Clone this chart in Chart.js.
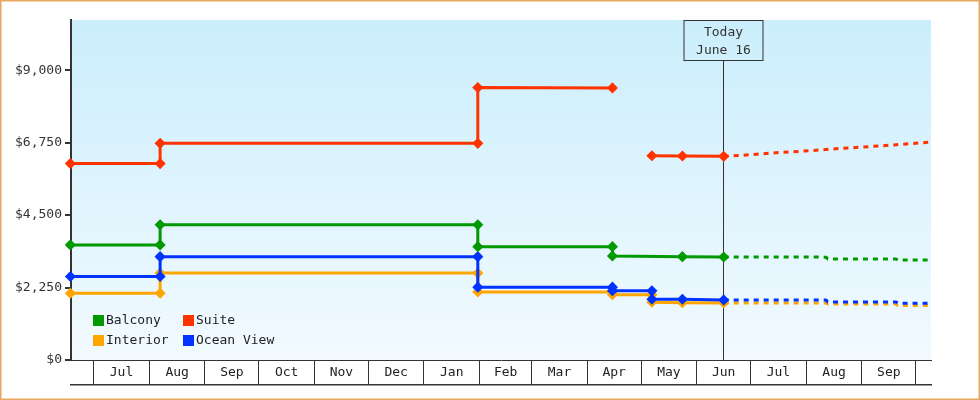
<!DOCTYPE html>
<html>
<head>
<meta charset="utf-8">
<script src="https://cdn.jsdelivr.net/npm/chart.js@4/dist/chart.umd.min.js"></script>
<style>
  html, body { margin: 0; padding: 0; background: #fff; }
  #wrap { width: 980px; height: 400px; }
</style>
</head>
<body>
<div id="wrap"><canvas id="priceChart" width="980" height="400"></canvas></div>
<script>
// cabin prices over time, with forecast after "today"
const today = "2024-06-16";
const rangeStart = "2023-06-18";
const rangeEnd = "2024-10-09";

const monthStarts = [
  "2023-07-01", "2023-08-01", "2023-09-01", "2023-10-01", "2023-11-01", "2023-12-01",
  "2024-01-01", "2024-02-01", "2024-03-01", "2024-04-01", "2024-05-01", "2024-06-01",
  "2024-07-01", "2024-08-01", "2024-09-01", "2024-10-01",
];
const monthLabels = ["Jul", "Aug", "Sep", "Oct", "Nov", "Dec", "Jan", "Feb", "Mar", "Apr", "May", "Jun", "Jul", "Aug", "Sep"];

const yTicks = [0, 2250, 4500, 6750, 9000];

const balconyDates = ["2023-06-18", "2023-08-07", "2023-08-07", "2024-01-31", "2024-01-31", "2024-04-15", "2024-04-15", "2024-05-24", "2024-06-16",
  "2024-08-12", "2024-08-13", "2024-09-20", "2024-09-21", "2024-10-09"];
const balconyPrices = [3575, 3575, 4200, 4200, 3520, 3520, 3230, 3210, 3200,
  3195, 3140, 3140, 3105, 3105];

const suiteDates = ["2023-06-18", "2023-08-07", "2023-08-07", "2024-01-31", "2024-01-31", "2024-04-15", "2024-04-26", "2024-05-07", "2024-05-24", "2024-06-16",
  "2024-06-27", "2024-07-13", "2024-07-31", "2024-08-16", "2024-09-02", "2024-09-19", "2024-10-09"];
const suitePrices = [6100, 6100, 6730, 6730, 8460, 8450, null, 6345, 6335, 6325,
  6360, 6430, 6490, 6555, 6615, 6680, 6765];

const interiorDates = ["2023-06-18", "2023-08-07", "2023-08-07", "2024-01-31", "2024-01-31", "2024-04-15", "2024-04-15", "2024-05-07", "2024-05-07", "2024-05-24", "2024-06-16",
  "2024-08-12", "2024-08-13", "2024-09-20", "2024-09-21", "2024-10-09"];
const interiorPrices = [2075, 2075, 2700, 2700, 2115, 2115, 2030, 2030, 1795, 1780, 1772,
  1770, 1740, 1740, 1690, 1690];

const oceanDates = ["2023-06-18", "2023-08-07", "2023-08-07", "2024-01-31", "2024-01-31", "2024-04-15", "2024-04-15", "2024-05-07", "2024-05-07", "2024-05-24", "2024-06-16",
  "2024-08-12", "2024-08-13", "2024-09-20", "2024-09-21", "2024-10-09"];
const oceanPrices = [2595, 2595, 3210, 3210, 2262, 2262, 2150, 2150, 1887, 1887, 1866,
  1860, 1805, 1805, 1765, 1765];

// days since Jul 1 2023 (linear axis, no date adapter)
const DAY0 = Date.UTC(2023, 6, 1);
function day(s) {
  const p = s.split("-");
  return (Date.UTC(+p[0], +p[1] - 1, +p[2]) - DAY0) / 86400000;
}
const TODAY = day(today);

function points(dates, prices) {
  return dates.map((d, i) => ({ x: day(d), y: prices[i] }));
}

// boundary ticks (grid lines) + mid-month ticks (labels)
const boundaryDays = monthStarts.map(day);
const midDays = monthLabels.map((m, i) => (boundaryDays[i] + boundaryDays[i + 1]) / 2);
const xTickValues = boundaryDays.concat(midDays).sort((a, b) => a - b);

const FONT = "'DejaVu Sans Mono', monospace";

function series(label, color, dates, prices, order) {
  return {
    label: label,
    data: points(dates, prices),
    borderColor: color,
    backgroundColor: color,
    borderWidth: 3,
    pointStyle: "rectRot",
    pointRadius: (c) => (c.raw && c.raw.x > TODAY + 0.01 ? 0 : 4.5),
    pointBorderWidth: 1.5,
    pointHoverRadius: 4.5,
    tension: 0,
    spanGaps: false,
    clip: false,
    order: order,
    segment: {
      borderDash: (c) => (c.p0.parsed.x >= TODAY - 0.01 ? [5, 5] : undefined),
    },
  };
}

const plotBackground = {
  id: "plotBackground",
  beforeDraw(chart) {
    const { ctx, chartArea: a } = chart;
    ctx.save();
    ctx.fillStyle = "#fff";
    ctx.fillRect(0, 0, chart.width, chart.height);
    const g = ctx.createLinearGradient(0, a.top, 0, a.bottom);
    g.addColorStop(0, "#cbeefc");
    g.addColorStop(1, "#f2faff");
    ctx.fillStyle = g;
    ctx.fillRect(a.left, a.top, a.right - a.left, a.bottom - a.top);
    ctx.restore();
  },
  afterDraw(chart) {
    const ctx = chart.ctx;
    ctx.save();
    ctx.strokeStyle = "#e8a860";
    ctx.lineWidth = 1.5;
    ctx.strokeRect(0.75, 0.75, chart.width - 1.5, chart.height - 1.5);
    ctx.restore();
  },
};

const todayMarker = {
  id: "todayMarker",
  beforeDatasetsDraw(chart) {
    const { ctx, chartArea: a } = chart;
    const x = Math.floor(chart.scales.x.getPixelForValue(TODAY)) + 0.5;
    const boxW = 79, boxH = 40;
    ctx.save();
    ctx.strokeStyle = "#333";
    ctx.lineWidth = 1;
    ctx.beginPath();
    ctx.moveTo(x, a.top + boxH);
    ctx.lineTo(x, a.bottom);
    ctx.stroke();
    ctx.strokeRect(Math.round(x - boxW / 2), a.top + 0.5, boxW, boxH);
    ctx.fillStyle = "#333";
    ctx.font = "13px " + FONT;
    ctx.textAlign = "center";
    ctx.textBaseline = "middle";
    ctx.fillText("Today", x, a.top + 13);
    ctx.fillText("June 16", x, a.top + 31);
    ctx.restore();
  },
};

const insideLegend = {
  id: "insideLegend",
  afterDatasetsDraw(chart) {
    const { ctx, chartArea: a } = chart;
    const ds = chart.data.datasets;
    ctx.save();
    ctx.font = "13px " + FONT;
    ctx.textBaseline = "middle";
    ctx.textAlign = "left";
    ds.forEach((d, i) => {
      const col = i % 2, row = Math.floor(i / 2);
      const bx = a.left + 22 + col * 90;
      const cy = a.bottom - 39.5 + row * 20;
      ctx.fillStyle = d.borderColor;
      ctx.fillRect(bx, cy - 5.5, 11, 11);
      ctx.fillStyle = "#222";
      ctx.fillText(d.label, bx + 13, cy + 0.5);
    });
    ctx.restore();
  },
};

const config = {
  type: "line",
  data: {
    datasets: [
      series("Balcony", "#009900", balconyDates, balconyPrices, 0),
      series("Suite", "#ff3300", suiteDates, suitePrices, 0),
      series("Interior", "#ffa500", interiorDates, interiorPrices, 2),
      series("Ocean View", "#0033ff", oceanDates, oceanPrices, 1),
    ],
  },
  options: {
    responsive: false,
    animation: false,
    devicePixelRatio: 1,
    layout: { padding: { left: 0, right: 49, top: 20, bottom: 15 } },
    plugins: {
      legend: { display: false },
      tooltip: { enabled: false },
    },
    scales: {
      x: {
        type: "linear",
        min: day(rangeStart) + 0.35,
        max: day(rangeEnd) + 0.5,
        afterBuildTicks: (scale) => {
          scale.ticks = xTickValues.map((v) => ({ value: v }));
        },
        afterFit: (scale) => {
          scale.height = 25;
        },
        border: { display: true, color: "#333", width: 1 },
        grid: {
          drawOnChartArea: false,
          drawTicks: true,
          tickLength: 25,
          lineWidth: 1,
          color: (c) => (c.tick && boundaryDays.includes(c.tick.value) ? "#333" : "rgba(0,0,0,0)"),
        },
        ticks: {
          autoSkip: false,
          maxRotation: 0,
          minRotation: 0,
          padding: -20,
          color: "#222",
          font: { family: FONT, size: 13 },
          callback: (v) => {
            const i = midDays.indexOf(v);
            return i >= 0 ? monthLabels[i] : "";
          },
        },
      },
      xBottom: {
        type: "linear",
        position: "bottom",
        min: day(rangeStart) + 0.35,
        max: day(rangeEnd) + 0.5,
        display: true,
        afterFit: (scale) => {
          scale.height = 0;
        },
        border: { display: true, color: "#333", width: 1.5 },
        grid: { display: false, drawTicks: false },
        ticks: { display: false },
      },
      y: {
        type: "linear",
        min: 0,
        max: 10560,
        afterBuildTicks: (scale) => {
          scale.ticks = yTicks.map((v) => ({ value: v }));
        },
        afterFit: (scale) => {
          scale.width = 71;
        },
        border: { display: true, color: "#333", width: 2 },
        grid: {
          drawOnChartArea: false,
          drawTicks: true,
          tickLength: 6,
          lineWidth: 2,
          color: "#333",
        },
        ticks: {
          padding: 3,
          color: "#333",
          font: { family: FONT, size: 13 },
          callback: (v) => "$" + v.toLocaleString("en-US"),
        },
      },
    },
  },
  plugins: [plotBackground, todayMarker, insideLegend],
};

const priceChart = new Chart(document.getElementById("priceChart").getContext("2d"), config);
</script>
</body>
</html>
